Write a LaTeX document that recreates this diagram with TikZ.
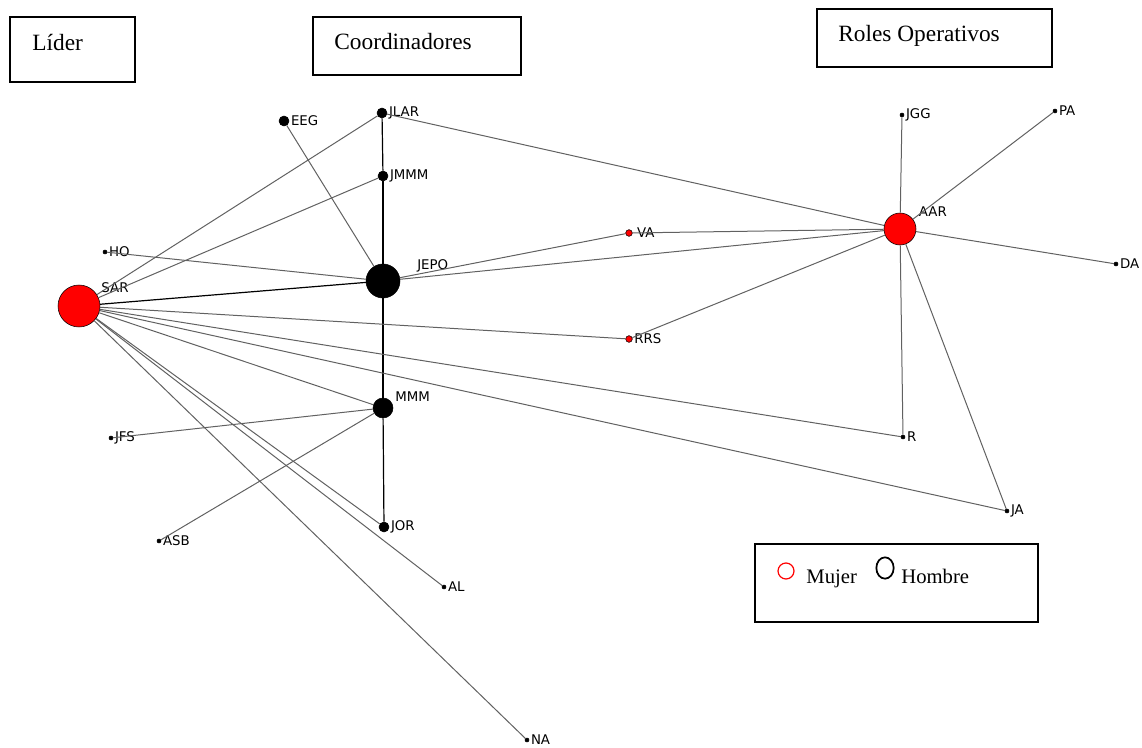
\documentclass[tikz,border=0pt]{standalone}
\usepackage{fontspec}
\setmainfont{Liberation Serif}
\newfontfamily\lblfont{DejaVu Sans}
\usetikzlibrary{positioning,shapes.geometric}

\begin{document}
\begin{tikzpicture}[x=0.75pt, y=-0.75pt, semithick, inner sep=2pt,
  actor/.style={circle, draw=black, line width=0.4pt, inner sep=0pt, fill=black},
  mujer/.style={fill=red},
  lbl/.style={font=\lblfont\fontsize{10}{11}\selectfont, inner sep=1pt, label distance=0pt},
  edge/.style={draw=black!62, line width=0.75pt},
  strong/.style={draw=black, line width=0.9pt},
  titlebox/.style={draw=black, line width=1.1pt, inner sep=0pt},
  titletext/.style={font=\fontsize{17.5}{20}\selectfont, inner sep=0pt, anchor=base west},
  legtext/.style={font=\fontsize{15.5}{18}\selectfont, inner sep=0pt, anchor=base west}]

% titulos
\node [titlebox, minimum width=93.75pt, minimum height=48.75pt] (lider) at (72.5,49.5) {};
\node [titletext] (lidertxt) at (32,51) {Líder};
\node [titlebox, minimum width=156pt, minimum height=43.5pt] (coord) at (417,46) {};
\node [titletext] (coordtxt) at (334,50) {Coordinadores};
\node [titlebox, minimum width=176.25pt, minimum height=43.5pt] (roles) at (934.5,38) {};
\node [titletext] (rolestxt) at (838,42) {Roles Operativos};

% actores
\node [actor, mujer, minimum size=31.5pt, label={[lbl, label distance=2pt]30:SAR}] (SAR) at (79,306) {};
\node [actor, minimum size=25.5pt, label={[lbl, label distance=12pt]12:JEPO}] (JEPO) at (383,281) {};
\node [actor, mujer, minimum size=24pt, label={[lbl, label distance=3pt]32:AAR}] (AAR) at (900,229) {};
\node [actor, minimum size=15pt, label={[lbl, label distance=1pt]25:MMM}] (MMM) at (383,408) {};
\node [actor, minimum size=7.5pt, label={[lbl]right:JLAR}] (JLAR) at (382,113) {};
\node [actor, minimum size=7.5pt, label={[lbl]right:EEG}] (EEG) at (284,121) {};
\node [actor, minimum size=7.5pt, label={[lbl]right:JMMM}] (JMMM) at (383,176) {};
\node [actor, minimum size=7.5pt, label={[lbl]right:JOR}] (JOR) at (384,527) {};
\node [actor, mujer, minimum size=5pt, label={[lbl, label distance=2pt]right:VA}] (VA) at (629,233) {};
\node [actor, mujer, minimum size=5pt, label={[lbl]right:RRS}] (RRS) at (629,339) {};
\node [actor, minimum size=3pt, label={[lbl]right:HO}] (HO) at (105,252) {};
\node [actor, minimum size=3pt, label={[lbl]right:JFS}] (JFS) at (111,438) {};
\node [actor, minimum size=3pt, label={[lbl]right:ASB}] (ASB) at (159,541) {};
\node [actor, minimum size=3pt, label={[lbl]right:AL}] (AL) at (444,587) {};
\node [actor, minimum size=3pt, label={[lbl]right:NA}] (NA) at (527,740) {};
\node [actor, minimum size=3pt, label={[lbl]right:JGG}] (JGG) at (902,115) {};
\node [actor, minimum size=3pt, label={[lbl]right:PA}] (PA) at (1055,111) {};
\node [actor, minimum size=3pt, label={[lbl]right:DA}] (DA) at (1116,264) {};
\node [actor, minimum size=3pt, label={[lbl]right:R}] (R) at (903,437) {};
\node [actor, minimum size=3pt, label={[lbl]right:JA}] (JA) at (1007,511) {};

% relaciones
\path [edge]
(SAR) edge (JLAR)
(SAR) edge (JMMM)
(SAR) edge [strong] (JEPO)
(HO) edge (JEPO)
(EEG) edge (JEPO)
(JLAR) edge [strong] (JMMM)
(JMMM) edge [strong] (JEPO)
(JEPO) edge [strong] (MMM)
(MMM) edge [strong] (JOR)
(JLAR) edge (AAR)
(JEPO) edge (VA)
(JEPO) edge (AAR)
(VA) edge (AAR)
(RRS) edge (AAR)
(SAR) edge (RRS)
(SAR) edge (MMM)
(SAR) edge (R)
(SAR) edge (JA)
(SAR) edge (JOR)
(SAR) edge (AL)
(SAR) edge (NA)
(JFS) edge (MMM)
(ASB) edge (MMM)
(AAR) edge (JGG)
(AAR) edge (PA)
(AAR) edge (DA)
(AAR) edge (R)
(AAR) edge (JA);

% leyenda
\node [titlebox, minimum width=212.25pt, minimum height=58.5pt] (leyenda) at (896.5,583) {};
\node [circle, draw=red, line width=0.9pt, minimum size=12pt, inner sep=0pt] (mujersym) at (786,571) {};
\node [legtext] (mujertxt) at (806,583) {Mujer};
\node [ellipse, draw=black, line width=1.3pt, minimum width=13pt, minimum height=16pt, inner sep=0pt] (hombresym) at (885,568) {};
\node [legtext] (hombretxt) at (901,583) {Hombre};

\useasboundingbox (0,0) rectangle (1142,748);
\end{tikzpicture}
\end{document}
